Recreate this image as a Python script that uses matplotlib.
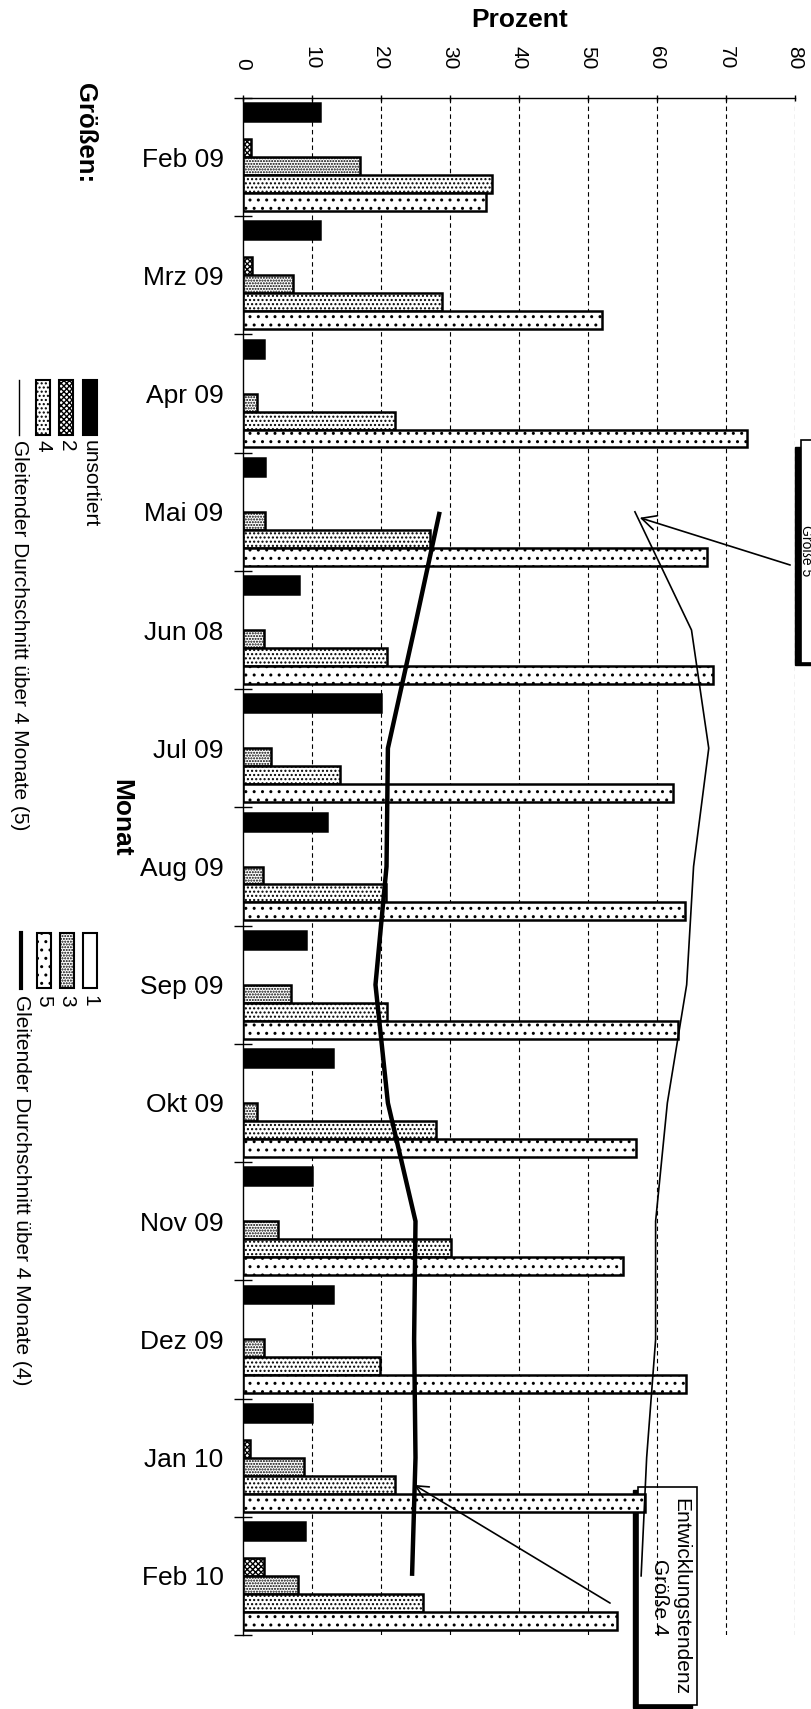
import numpy as np
import matplotlib.pyplot as plt
from matplotlib.patches import Rectangle
from matplotlib.lines import Line2D

plt.rcParams['font.family'] = ['Liberation Sans', 'DejaVu Sans']
plt.rcParams['hatch.linewidth'] = 1.0

# data (Prozent per Monat)
months = ['Feb 09', 'Mrz 09', 'Apr 09', 'Mai 09', 'Jun 08', 'Jul 09', 'Aug 09',
          'Sep 09', 'Okt 09', 'Nov 09', 'Dez 09', 'Jan 10', 'Feb 10']
unsortiert = [11.2, 11.2, 3.1, 3.2, 8.1, 20.0, 12.2, 9.1, 13.0, 10.0, 13.0, 10.0, 9.0]
g1 = [0, 0, 0, 0, 0, 0, 0, 0, 0, 0, 0, 0, 0]
g2 = [1.1, 1.3, 0, 0, 0, 0, 0, 0, 0, 0, 0, 1.0, 3.0]
g3 = [17.0, 7.2, 2.0, 3.2, 3.1, 4.1, 2.9, 7.0, 2.0, 5.0, 3.0, 8.9, 8.0]
g4 = [36.1, 28.9, 22.0, 27.1, 20.9, 14.0, 20.7, 20.8, 28.0, 30.1, 19.9, 22.0, 26.1]
g5 = [35.2, 52.0, 73.1, 67.3, 68.1, 62.3, 64.0, 63.1, 57.0, 55.1, 64.2, 58.3, 54.2]
# gleitender Durchschnitt ueber 4 Monate, ab Mai 09
avg4 = [28.5, 24.8, 21.0, 20.8, 19.2, 21.0, 25.0, 24.8, 25.0, 24.5]
avg5 = [56.8, 65.0, 67.5, 65.3, 64.3, 61.5, 59.8, 59.8, 58.5, 57.7]

W, H = 811, 1709


def fx(x):
    return x / W


def fy(y):
    return 1 - y / H


fig = plt.figure(figsize=(W / 100, H / 100), dpi=100)
ax = fig.add_axes([fx(243), fy(1635), (795 - 243) / W, (1635 - 98) / H])
ft = fig.transFigure

pos = np.arange(len(months))
h = 0.152
series = [unsortiert, g1, g2, g3, g4, g5]
styles = [dict(facecolor='black', edgecolor='black', hatch=None),
          dict(facecolor='white', edgecolor='black', hatch=None),
          dict(facecolor='white', edgecolor='black', hatch='xxxxxx'),
          dict(facecolor='white', edgecolor='black', hatch='......'),
          dict(facecolor='white', edgecolor='black', hatch='....'),
          dict(facecolor='white', edgecolor='black', hatch='..')]
for k, (vals, st) in enumerate(zip(series, styles)):
    lws = [1.8 if v > 0 else 0 for v in vals]
    ax.barh(pos + (k - 2.5) * h, vals, height=h, linewidth=lws, zorder=2, **st)

# moving averages
ax.plot(avg4, pos[3:], color='black', lw=3.2, zorder=4, solid_capstyle='butt')
ax.plot(avg5, pos[3:], color='black', lw=1.2, zorder=4)

for v in range(10, 81, 10):
    ax.axvline(v, color='black', lw=0.8, ls=(0, (4, 3)), zorder=1.5)

ax.set_xlim(0, 80)
ax.set_ylim(12.5, -0.5)
ax.xaxis.tick_top()
ax.set_xticks(range(0, 81, 10))
ax.tick_params(axis='x', direction='inout', length=5, width=1, pad=18,
               labelsize=15, labelrotation=-90)
ax.set_yticks(np.arange(-0.5, 13, 1))
ax.set_yticklabels([])
ax.set_yticks(pos, minor=True)
ax.set_yticklabels(months, minor=True, fontsize=19)
ax.tick_params(axis='y', which='major', direction='inout', length=13, width=1)
ax.tick_params(axis='y', which='minor', length=0, pad=14)
for s in ['right', 'bottom']:
    ax.spines[s].set_visible(False)
for s in ['left', 'top']:
    ax.spines[s].set_linewidth(1)

# titles
fig.text(fx(520), fy(20), 'Prozent', fontsize=19, fontweight='bold', ha='center', va='center')
fig.text(fx(121), fy(818), 'Monat', fontsize=19, fontweight='bold', ha='center', va='center',
         rotation=-90)
fig.text(fx(85), fy(133), 'Größen:', fontsize=18.5, fontweight='bold', ha='center', va='center',
         rotation=-90)


def frect(x0, y0, x1, y1, **kw):
    r = Rectangle((fx(x0), fy(y1)), (x1 - x0) / W, (y1 - y0) / H, transform=ft,
                  clip_on=False, **kw)
    ax.add_patch(r)
    return r


# legend, left column
legend_left = [('unsortiert', 90, styles[0]), ('2', 66, styles[2]), ('4', 43, styles[4])]
for lab, xc, st in legend_left:
    frect(xc - 7, 380, xc + 7, 435, linewidth=1.5, zorder=3, **st)
    fig.text(fx(xc), fy(440), lab, fontsize=15, rotation=-90, rotation_mode='anchor',
             ha='left', va='center')
ax.add_line(Line2D([fx(19), fx(19)], [fy(380), fy(435)], transform=ft, color='black',
                   lw=1, clip_on=False))
fig.text(fx(19), fy(440), 'Gleitender Durchschnitt über 4 Monate (5)', fontsize=15,
         rotation=-90, rotation_mode='anchor', ha='left', va='center')

# legend, right column
legend_right = [('1', 90, styles[1]), ('3', 67, styles[3]), ('5', 44, styles[5])]
for lab, xc, st in legend_right:
    frect(xc - 7, 933, xc + 7, 988, linewidth=1.5, zorder=3, **st)
    fig.text(fx(xc), fy(995), lab, fontsize=15, rotation=-90, rotation_mode='anchor',
             ha='left', va='center')
ax.add_line(Line2D([fx(21), fx(21)], [fy(933), fy(988)], transform=ft, color='black',
                   lw=3, clip_on=False))
fig.text(fx(21), fy(995), 'Gleitender Durchschnitt über 4 Monate (4)', fontsize=15,
         rotation=-90, rotation_mode='anchor', ha='left', va='center')

# annotation boxes
frect(633, 1490, 692, 1708, facecolor='black', edgecolor='black', zorder=1)
frect(638, 1487, 697, 1705, facecolor='white', edgecolor='black', linewidth=1.2, zorder=1.2)
fig.text(fx(670), fy(1597), 'Entwicklungstendenz\nGröße 4', fontsize=15, rotation=-90,
         ha='center', va='center', multialignment='center', linespacing=1.2)
ax.annotate('', xy=(24.8, 11.23), xytext=(53.2, 12.23),
            arrowprops=dict(arrowstyle='->', lw=1.2, color='black', shrinkA=0, shrinkB=0,
                            mutation_scale=22), zorder=5)

frect(795, 447, 830, 665, facecolor='black', edgecolor='black', zorder=1)
frect(801, 440, 840, 663, facecolor='white', edgecolor='black', linewidth=1.2, zorder=1.2)
fig.text(fx(801.5), fy(551), 'Größe 5', fontsize=10, rotation=-90, rotation_mode='anchor',
         ha='center', va='baseline')
ax.annotate('', xy=(57.5, 3.05), xytext=(79.3, 3.45),
            arrowprops=dict(arrowstyle='->', lw=1.2, color='black', shrinkA=0, shrinkB=0,
                            mutation_scale=26), zorder=5)

fig.savefig('out.png', dpi=100)
